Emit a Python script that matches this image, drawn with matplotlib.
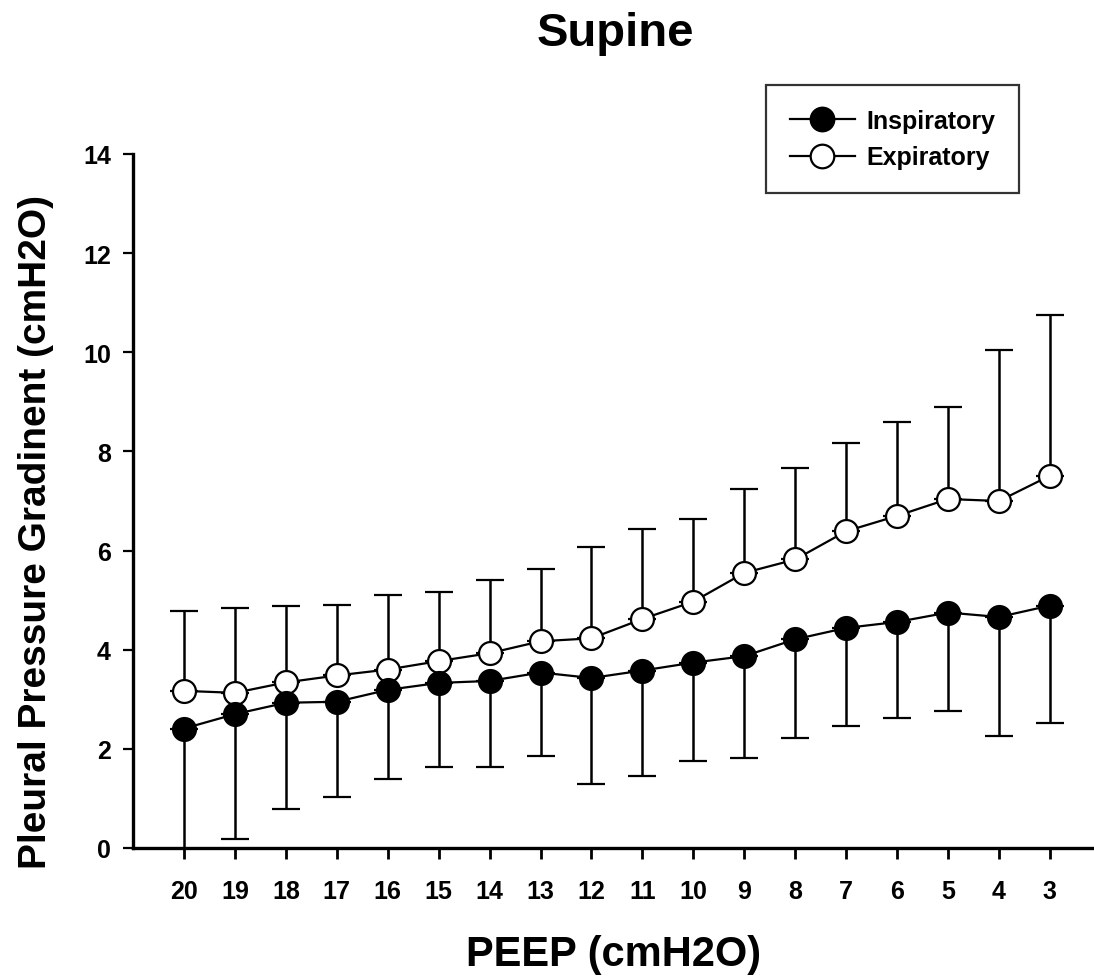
import matplotlib
matplotlib.use("Agg")
import matplotlib.pyplot as plt
from matplotlib.lines import Line2D
import numpy as np

# PEEP steps (cmH2O), decreasing left to right
peep = [20, 19, 18, 17, 16, 15, 14, 13, 12, 11, 10, 9, 8, 7, 6, 5, 4, 3]

# inspiratory: mean and lower end of the error bar
insp_mean = [2.41, 2.70, 2.93, 2.95, 3.19, 3.33, 3.37, 3.54, 3.43, 3.58,
             3.74, 3.87, 4.21, 4.44, 4.56, 4.75, 4.66, 4.89]
insp_low = [-0.10, 0.19, 0.79, 1.03, 1.39, 1.64, 1.63, 1.85, 1.29, 1.45,
            1.76, 1.82, 2.22, 2.47, 2.62, 2.76, 2.26, 2.52]

# expiratory: mean and upper end of the error bar
exp_mean = [3.17, 3.13, 3.34, 3.48, 3.60, 3.77, 3.93, 4.17, 4.23, 4.62,
            4.97, 5.55, 5.82, 6.39, 6.70, 7.04, 7.00, 7.51]
exp_high = [4.78, 4.85, 4.89, 4.91, 5.10, 5.17, 5.40, 5.62, 6.07, 6.43,
            6.64, 7.25, 7.67, 8.17, 8.59, 8.89, 10.05, 10.75]

y_ticks = [0, 2, 4, 6, 8, 10, 12, 14]
series_labels = ["Inspiratory", "Expiratory"]

plt.rcParams["font.family"] = ["Liberation Sans", "DejaVu Sans"]
plt.rcParams["font.weight"] = "bold"

W, H = 1094, 979
fig = plt.figure(figsize=(W / 100, H / 100), dpi=100)
fig.patch.set_facecolor("white")

# axes box in pixels: left 133, right 1094, top 155, bottom 849
ax = fig.add_axes([133 / W, 1 - 849 / H, (1094 - 133) / W, (849 - 155) / H])

x = np.array(peep, dtype=float)
im = np.array(insp_mean)
em = np.array(exp_mean)
insp_err = [im - np.array(insp_low), np.zeros_like(im)]
exp_err = [np.zeros_like(em), np.array(exp_high) - em]

common = dict(color="black", linewidth=1.6, elinewidth=1.8, capsize=10,
              capthick=1.8, markersize=16.5, markeredgewidth=1.6,
              markeredgecolor="black")

ax.errorbar(x, em, yerr=exp_err, marker="o", markerfacecolor="white",
            zorder=3, **common)
ax.errorbar(x, im, yerr=insp_err, marker="o", markerfacecolor="black",
            zorder=4, **common)

px_per_unit = 50.94
ax.set_xlim(21, 21 - (1094 - 133) / px_per_unit)
ax.set_ylim(0, 14)
ax.set_xticks(peep)
ax.set_xticklabels([str(p) for p in peep])
ax.set_yticks(y_ticks)

for side in ("top", "right"):
    ax.spines[side].set_visible(False)
for side in ("left", "bottom"):
    ax.spines[side].set_linewidth(2.4)

ax.tick_params(axis="x", direction="out", length=8, width=2, pad=14,
               labelsize=18)
ax.tick_params(axis="y", direction="out", length=7, width=1.6, pad=9,
               labelsize=18)
for lab in ax.get_xticklabels() + ax.get_yticklabels():
    lab.set_fontweight("bold")

ax.set_xlabel("PEEP (cmH2O)", fontsize=30, fontweight="bold")
ax.xaxis.set_label_coords(0.5, -(955 - 849) / (849 - 155), transform=ax.transAxes)
ax.xaxis.label.set_va("center")
ax.set_ylabel("Pleural Pressure Gradinent (cmH2O)", fontsize=28,
              fontweight="bold")
ax.yaxis.set_label_coords(-(133 - 36) / (1094 - 133), (849 - 532) / (849 - 155))
ax.yaxis.label.set_va("center")

fig.text(615 / W, 1 - 34 / H, "Supine", ha="center", va="center",
         fontsize=34, fontweight="bold")

# legend: line + marker only, no error bar caps
handles = [
    Line2D([], [], color="black", linewidth=1.6, marker="o", markersize=17,
           markerfacecolor="black", markeredgecolor="black", markeredgewidth=1.6),
    Line2D([], [], color="black", linewidth=1.6, marker="o", markersize=17,
           markerfacecolor="white", markeredgecolor="black", markeredgewidth=1.6),
]
leg = fig.legend(handles, series_labels, loc="upper left",
                 bbox_to_anchor=(766 / W, 1 - 86 / H), borderaxespad=0,
                 frameon=True, fancybox=False, shadow=False,
                 prop={"size": 18, "weight": "bold"}, handlelength=2.6,
                 handletextpad=0.45, borderpad=0.95, labelspacing=0.5)
leg.get_frame().set_edgecolor("black")
leg.get_frame().set_linewidth(1.6)

fig.savefig("out.png", dpi=100, facecolor="white")
